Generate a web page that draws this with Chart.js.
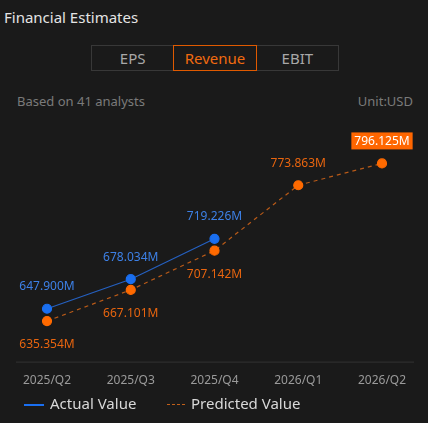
<!DOCTYPE html>
<html>
<head>
<meta charset="utf-8">
<script src="https://cdn.jsdelivr.net/npm/chart.js@4"></script>
<style>
  html, body { margin: 0; padding: 0; background: #1a1a1a; }
  body { width: 428px; height: 423px; position: relative; overflow: hidden; font-family: "Noto Sans", sans-serif; }
  .title { position: absolute; left: 4px; top: 7px; font-size: 15px; color: #e4e4e4; }
  .tabs { position: absolute; left: 91px; top: 45px; width: 248px; height: 26px; border: 1px solid #383838; box-sizing: border-box; display: flex; }
  .tab { flex: 1; text-align: center; line-height: 24px; font-size: 15px; color: #a8a8a8; box-sizing: border-box; }
  .tab.active { border: 1px solid #e05a00; color: #f06a10; margin: -1px 0; line-height: 24px; height: 26px; }
  .sub { position: absolute; top: 92px; font-size: 13px; color: #7a7a7a; }
  .legend { position: absolute; top: 395px; left: 24px; font-size: 15px; color: #d8d8d8; }
  .legend span { position: absolute; white-space: nowrap; top: 0; }
  #chart-wrap { position: absolute; left: 0; top: 110px; width: 428px; height: 290px; }
</style>
</head>
<body>
<div class="title">Financial Estimates</div>
<div class="tabs">
  <div class="tab">EPS</div>
  <div class="tab active">Revenue</div>
  <div class="tab">EBIT</div>
</div>
<div class="sub" style="left:17px">Based on 41 analysts</div>
<div class="sub" style="right:15px">Unit:USD</div>
<div id="chart-wrap"><canvas id="chart"></canvas></div>
<div class="legend">
  <span style="left:0;top:9px;width:20px;height:2px;background:#1a6ff0"></span>
  <span style="left:26px;top:-2px">Actual Value</span>
  <span style="left:143px;top:9px;width:18px;border-top:1px dashed #c0601a"></span>
  <span style="left:167px;top:-2px">Predicted Value</span>
</div>
<script>
// Revenue estimates (millions USD)
const quarters = ['2025/Q2', '2025/Q3', '2025/Q4', '2026/Q1', '2026/Q2'];
const actualValues = [647.900, 678.034, 719.226, null, null];
const predictedValues = [635.354, 667.101, 707.142, 773.863, 796.125];
const yMin = 594;
const yMax = 820;

// draws the value labels and the bottom baseline
const labelPlugin = {
    id: 'valueLabels',
    afterDatasetsDraw(chart) {
        const ctx = chart.ctx;
        const area = chart.chartArea;
        ctx.save();
        ctx.strokeStyle = '#333';
        ctx.lineWidth = 1;
        ctx.beginPath();
        ctx.moveTo(16, area.bottom + 0.5);
        ctx.lineTo(414, area.bottom + 0.5);
        ctx.stroke();

        ctx.font = '12px "Noto Sans", sans-serif';
        ctx.textAlign = 'center';
        ctx.textBaseline = 'middle';

        chart.getDatasetMeta(0).data.forEach((pt, i) => {
            if (actualValues[i] == null) return;
            ctx.fillStyle = '#3d80e6';
            ctx.fillText(actualValues[i].toFixed(3) + 'M', pt.x, pt.y - 22);
        });

        const meta = chart.getDatasetMeta(1).data;
        meta.forEach((pt, i) => {
            const txt = predictedValues[i].toFixed(3) + 'M';
            const above = actualValues[i] == null;
            const y = above ? pt.y - 22 : pt.y + 24;
            if (i === meta.length - 1) {
                const w = ctx.measureText(txt).width + 6;
                ctx.fillStyle = '#ff6600';
                ctx.fillRect(pt.x - w / 2, y - 9, w, 17);
                ctx.fillStyle = '#ffffff';
            } else {
                ctx.fillStyle = '#e8650f';
            }
            ctx.fillText(txt, pt.x, y);
        });
        ctx.restore();
    }
};

new Chart(document.getElementById('chart'), {
    type: 'line',
    data: {
        labels: quarters,
        datasets: [{
            label: 'Actual Value',
            data: actualValues,
            borderColor: '#2560c0',
            borderWidth: 1.2,
            pointBackgroundColor: '#1a6ff0',
            pointBorderColor: '#1a6ff0',
            pointRadius: 4.5,
            tension: 0
        }, {
            label: 'Predicted Value',
            data: predictedValues,
            borderColor: '#b85a18',
            borderWidth: 1.2,
            borderDash: [4, 4],
            pointBackgroundColor: '#ff6a00',
            pointBorderColor: '#ff6a00',
            pointRadius: 4.5,
            tension: 0
        }]
    },
    options: {
        responsive: true,
        maintainAspectRatio: false,
        animation: false,
        layout: { padding: { left: 47, right: 46, top: 30, bottom: 0 } },
        plugins: { legend: { display: false }, tooltip: { enabled: false } },
        scales: {
            x: {
                offset: false,
                grid: { display: false, drawTicks: false },
                border: { display: false },
                ticks: { color: '#9a9a9a', font: { size: 12, family: '"Noto Sans", sans-serif' }, padding: 12, maxRotation: 0 }
            },
            y: {
                display: false,
                min: yMin,
                max: yMax
            }
        }
    },
    plugins: [labelPlugin]
});
</script>
</body>
</html>
